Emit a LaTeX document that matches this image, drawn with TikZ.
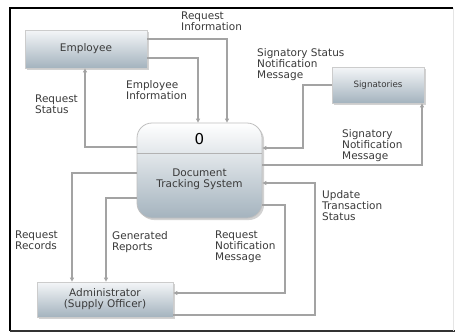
\documentclass[tikz,border=0pt]{standalone}
\usepackage{fontspec}
\setmainfont{DejaVu Sans}
\usetikzlibrary{arrows.meta,shadows}
\definecolor{linegray}{HTML}{A3A3A3}
\definecolor{txtgray}{HTML}{3A3A3A}
\definecolor{boxtop}{HTML}{F4F6F8}
\definecolor{boxbot}{HTML}{A4B3BE}
\tikzset{
  ent/.style={draw=white!80!black, line width=0.8pt, top color=boxtop, bottom color=boxbot,
    drop shadow={shadow xshift=1.5pt, shadow yshift=-1.5pt, opacity=0.35},
    text=txtgray, inner sep=0pt, font=\fontsize{10.5}{11}\selectfont},
  proc/.style={draw=white!75!black, line width=0.8pt, rounded corners=15pt, top color=white, bottom color=boxbot,
    drop shadow={shadow xshift=2pt, shadow yshift=-2pt, opacity=0.35},
    minimum width=125pt, minimum height=95pt, inner sep=0pt},
  flow/.style={draw=linegray, line width=1.2pt, -{Triangle[width=4pt,length=4pt]}},
  lbl/.style={anchor=north west, inner sep=0pt, align=left, text=txtgray,
    font=\fontsize{10.5}{11}\selectfont}
}
\begin{document}
\begin{tikzpicture}[x=1pt,y=-1pt]
\useasboundingbox (0,0) rectangle (455,333);
\fill[white] (0,0) rectangle (455,333);
% frame
\draw[line width=2pt, black] (10,331) -- (10,8) -- (453,8);
\draw[line width=2pt, black!80] (10,331) -- (455,331);
\draw[line width=0.6pt, black!10] (453,8) -- (453,331);

% nodes
\node[ent, minimum width=122pt, minimum height=38pt] (emp) at (86,49) {Employee};
\node[ent, minimum width=92pt, minimum height=36pt, font=\fontsize{8.7}{10}\selectfont] (sig) at (378,85) {Signatories};
\node[ent, minimum width=136pt, minimum height=35pt, align=center] (adm) at (105,299.5) {Administrator\\(Supply Officer)};
\node[proc] (ctr) at (199.5,170.5) {};
\draw[white!70!black, line width=0.6pt] (ctr.west |- 0,153) -- (ctr.east |- 0,153);
\node[text=black, font=\fontsize{15}{15}\selectfont, inner sep=0pt] (zero) at (199.5,139) {0};
\node[align=center, text=txtgray, inner sep=0pt, font=\fontsize{10.5}{11}\selectfont] (ctrtext) at (199.5,179) {Document\\Tracking System};

% flows
\draw[flow] (emp.east |- 0,39) -| (ctr.north -| 227,0);
\draw[flow] (emp.east |- 0,58) -| (ctr.north -| 198,0);
\draw[flow] (ctr.west |- 0,147) -| (emp.south -| 85,0);
\draw[flow] (sig.west |- 0,85) -| (303,148) -- (ctr.east |- 0,148);
\draw[flow] (ctr.east |- 0,165) -| (sig.south -| 422,0);
\draw[flow] (adm.east |- 0,315) -| (315,183) -- (ctr.east |- 0,183);
\draw[flow] (ctr.east |- 0,205) -| (285,293) -- (adm.east |- 0,293);
\draw[flow] (ctr.west |- 0,173) -| (adm.north -| 72,0);
\draw[flow] (ctr.west |- 0,198) -| (adm.north -| 106,0);

% labels
\node[lbl] (l1) at (181,12) {Request\\Information};
\node[lbl] (l2) at (126,80) {Employee\\Information};
\node[lbl] (l3) at (35,95) {Request\\Status};
\node[lbl] (l4) at (257,48) {Signatory Status\\Notification\\Message};
\node[lbl] (l5) at (342,129) {Signatory\\Notification\\Message};
\node[lbl] (l6) at (322,190) {Update\\Transaction\\Status};
\node[lbl] (l7) at (215,231) {Request\\Notification\\Message};
\node[lbl] (l8) at (15,231) {Request\\Records};
\node[lbl] (l9) at (112,231) {Generated\\Reports};
\end{tikzpicture}
\end{document}
